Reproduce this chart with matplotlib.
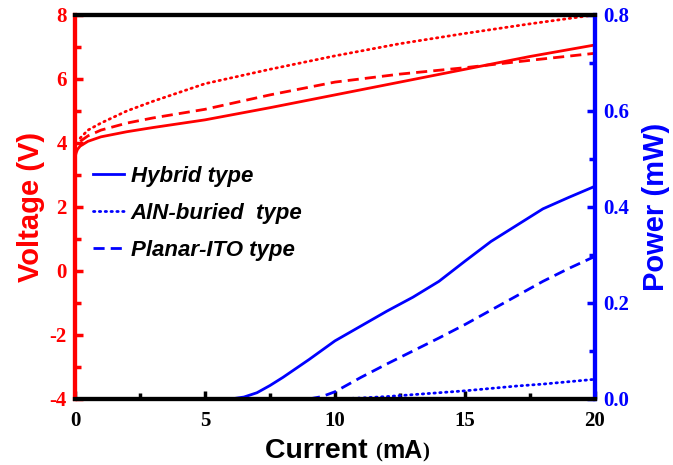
import matplotlib

matplotlib.use("Agg")

import matplotlib.pyplot as plt
from matplotlib.ticker import MultipleLocator

# voltage curves (V) vs current (mA)
v_hybrid_i = [0.0, 0.05, 0.1, 0.2, 0.3, 0.5, 1, 2, 3, 5, 7.5, 10, 12.5, 15, 17.5, 20]
v_hybrid = [3.55, 3.7, 3.8, 3.9, 3.95, 4.05, 4.19, 4.35, 4.48, 4.72, 5.1, 5.5, 5.9, 6.3, 6.7, 7.06]

v_aln_i = [0.2, 0.5, 1, 2, 3, 5, 7.5, 10, 12.5, 15, 17.5, 20]
v_aln = [4.15, 4.4, 4.62, 5.0, 5.3, 5.85, 6.3, 6.72, 7.1, 7.42, 7.72, 8.0]

v_ito_i = [0.2, 0.5, 1, 2, 3, 5, 7.5, 10, 12.5, 15, 17.5, 20]
v_ito = [4.05, 4.22, 4.4, 4.62, 4.78, 5.05, 5.5, 5.9, 6.15, 6.35, 6.58, 6.8]

# optical power curves (mW) vs current (mA)
p_hybrid_i = [6, 6.5, 7, 7.5, 8, 9, 10, 11, 12, 13, 14, 15, 16, 17, 18, 19, 20]
p_hybrid = [0.0, 0.004, 0.013, 0.028, 0.045, 0.082, 0.121, 0.152, 0.183, 0.212, 0.245,
            0.287, 0.328, 0.362, 0.396, 0.42, 0.443]

p_aln_i = [10, 11, 12, 13, 14, 15, 16, 17, 18, 19, 20]
p_aln = [0.0, 0.002, 0.005, 0.009, 0.013, 0.017, 0.022, 0.027, 0.031, 0.036, 0.041]

p_ito_i = [9, 9.5, 10, 11, 12, 13, 14, 15, 16, 17, 18, 19, 20]
p_ito = [0.0, 0.005, 0.015, 0.045, 0.073, 0.1, 0.127, 0.155, 0.185, 0.215, 0.245,
         0.272, 0.297]

RED = "#ff0000"
BLUE = "#0000ff"
SERIF = "Liberation Serif"
SANS = "Liberation Sans"
DOT = (0, (0.5, 1.6))
DASH = (0, (4.0, 2.2))

plt.rcParams["axes.unicode_minus"] = False

fig = plt.figure(figsize=(6.73, 4.65), dpi=100)
ax = fig.add_axes([0.1114, 0.142, 0.7726, 0.826])
ax2 = ax.twinx()

lw = 2.0
ax.plot(v_hybrid_i, v_hybrid, color=RED, lw=lw)
ax.plot(v_aln_i, v_aln, color=RED, lw=lw, linestyle=DOT, dash_capstyle="round")
ax.plot(v_ito_i, v_ito, color=RED, lw=lw, linestyle=DASH)

ax2.plot(p_hybrid_i, p_hybrid, color=BLUE, lw=lw, label="Hybrid type")
ax2.plot(p_aln_i, p_aln, color=BLUE, lw=lw, linestyle=DOT,
         dash_capstyle="round", label="AlN-buried  type")
ax2.plot(p_ito_i, p_ito, color=BLUE, lw=lw, linestyle=DASH, label="Planar-ITO type")

ax.set_xlim(0, 20)
ax.set_ylim(-4, 8)
ax2.set_ylim(0, 0.8)

ax.xaxis.set_major_locator(MultipleLocator(5))
ax.xaxis.set_minor_locator(MultipleLocator(2.5))
ax.yaxis.set_major_locator(MultipleLocator(2))
ax.yaxis.set_minor_locator(MultipleLocator(1))
ax2.yaxis.set_major_locator(MultipleLocator(0.2))
ax2.yaxis.set_minor_locator(MultipleLocator(0.1))
ax2.yaxis.set_major_formatter(plt.FormatStrFormatter("%.1f"))

for a in (ax, ax2):
    for spine in a.spines.values():
        spine.set_linewidth(3)
    a.spines["left"].set_color(RED)
    a.spines["right"].set_color(BLUE)
    a.spines["top"].set_color("black")
    a.spines["bottom"].set_color("black")

ax.tick_params(axis="x", which="both", direction="in", width=2.5, colors="black",
               top=False, pad=9)
ax.tick_params(axis="y", which="both", direction="in", width=2.5, colors=RED, pad=6)
ax2.tick_params(axis="y", which="both", direction="in", width=2.5, colors=BLUE, pad=6)
for a in (ax, ax2):
    a.tick_params(which="major", length=6)
    a.tick_params(which="minor", length=4)

for lab in ax.get_xticklabels() + ax.get_yticklabels() + ax2.get_yticklabels():
    lab.set_fontfamily(SERIF)
    lab.set_fontweight("bold")
    lab.set_fontsize(15)

ax.set_ylabel("Voltage (V)", color=RED, fontfamily=SANS, fontweight="bold",
              fontsize=21, labelpad=3)
ax2.set_ylabel("Power (mW)", color=BLUE, fontfamily=SANS, fontweight="bold",
               fontsize=21, labelpad=9)

# x label: sans "Current", serif parentheses round a sans "mA"
pieces = [("Current ", SANS, 20.5), ("(", SERIF, 15), ("mA", SANS, 18), (")", SERIF, 15)]
x_px = 265
base = 0.016
fig.canvas.draw()
renderer = fig.canvas.get_renderer()
for txt, fam, size in pieces:
    t = fig.text(x_px / 673, base, txt, ha="left", va="baseline", fontfamily=fam,
                 fontweight="bold", fontsize=size)
    x_px = t.get_window_extent(renderer).x1

ax2.legend(loc="center left", bbox_to_anchor=(0.035, 0.484), frameon=False,
           borderpad=0, borderaxespad=0, handlelength=1.4, handletextpad=0.3,
           labelspacing=0.72,
           prop={"family": SANS, "weight": "bold", "style": "italic", "size": 16})

fig.savefig("out.png", dpi=100)
